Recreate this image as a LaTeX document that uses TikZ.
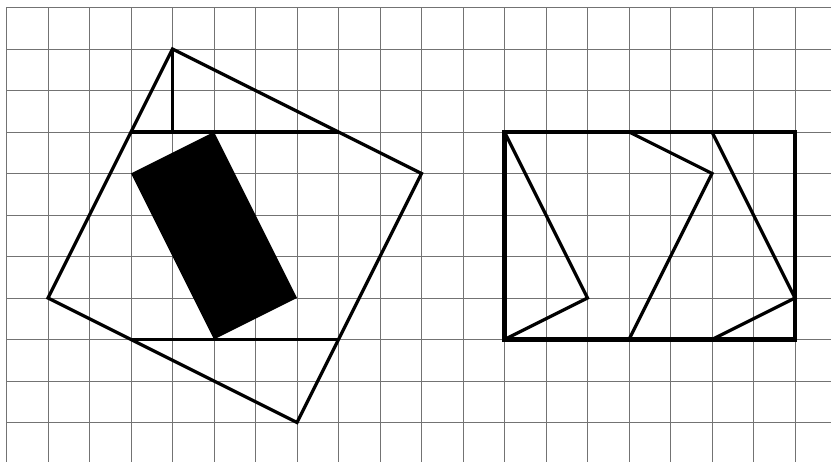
\documentclass[tikz,border=0pt]{standalone}
\usepackage{amsmath}
\usepackage{amssymb}
\usepackage[dvipsnames]{xcolor}

\tikzset{
  gridline/.style={draw=black!55, line width=0.6pt},
  figline/.style={draw=black, line width=2.2pt, line join=miter},
  frameline/.style={draw=black, line width=2.8pt, line join=miter},
}

\begin{document}
\begin{tikzpicture}[y=-1cm]
  \useasboundingbox (-0.157,-0.18) rectangle (19.867,10.952);
  \draw[gridline] (0,0) grid (19.9,11);

  % tilted square
  \coordinate (t) at (4,1);
  \coordinate (r) at (10,4);
  \coordinate (b) at (7,10);
  \coordinate (l) at (1,7);
  \draw[figline] (t) -- (r) -- (b) -- (l) -- cycle;
  \draw[figline] (t) -- (4,3);
  \draw[figline] (3,3) -- (8,3);
  \draw[figline] (3,8) -- (8,8);

  % black rectangle
  \fill (3,4) -- (5,3) -- (7,7) -- (5,8) -- cycle;

  % right figure
  \draw[frameline] (12,3) rectangle (19,8);
  \draw[figline] (12,3) -- (14,7) -- (12,8);
  \draw[figline] (15,3) -- (17,4) -- (15,8);
  \draw[figline] (17,3) -- (19,7) -- (17,8);
\end{tikzpicture}
\end{document}
